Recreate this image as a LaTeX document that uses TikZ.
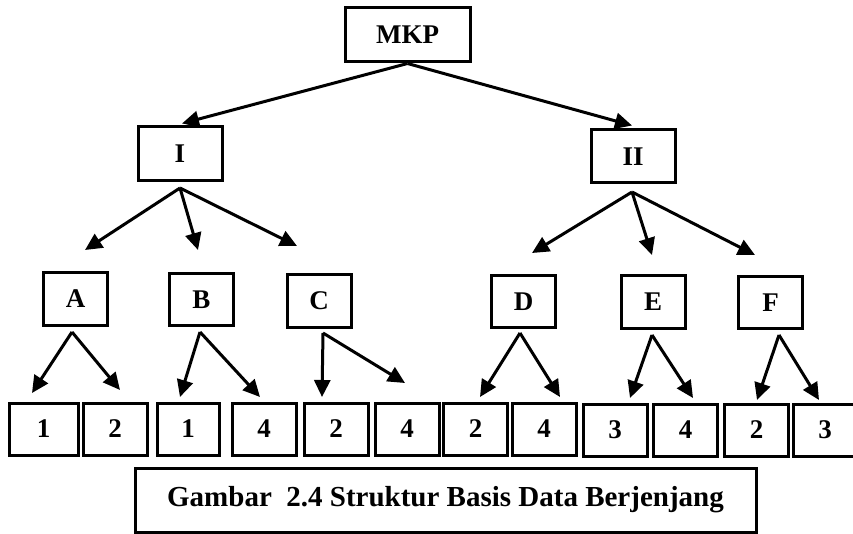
\documentclass[tikz,border=0pt]{standalone}
\usepackage{fontspec}
\setmainfont{Liberation Serif}
\usetikzlibrary{arrows.meta}
\begin{document}
\begin{tikzpicture}[x=1pt,y=-1pt,
  box/.style={draw=black,line width=3pt,inner sep=0pt,minimum height=52pt,
    font=\fontsize{27}{29}\selectfont\bfseries},
  lvl2/.style={box,minimum width=64pt},
  leaf/.style={box,minimum width=64pt},
  arr/.style={line width=3pt,-{Triangle[length=17pt,width=16pt]}}]
\useasboundingbox (0,0) rectangle (853,534);
% boxes
\node[box,minimum width=125pt,minimum height=54pt] (mkp) at (407.5,35) {MKP};
\node[box,minimum width=84pt,minimum height=54pt] (I) at (180,154) {I};
\node[box,minimum width=84pt,minimum height=53pt] (II) at (633,156.5) {II};
\node[lvl2] (A) at (75.5,299) {A};
\node[lvl2] (B) at (201.5,299.5) {B};
\node[lvl2] (C) at (319,301) {C};
\node[lvl2] (D) at (523.5,301.5) {D};
\node[lvl2] (E) at (653,302) {E};
\node[lvl2] (F) at (770.5,302.5) {F};
\node[leaf,minimum width=69pt] (l1) at (43.5,429) {1};
\node[leaf] (l2) at (115,429) {2};
\node[leaf,minimum width=62pt] (l3) at (188,429) {1};
\node[leaf] (l4) at (264,429) {4};
\node[leaf] (l5) at (336,429) {2};
\node[leaf] (l6) at (407,429) {4};
\node[leaf] (l7) at (475.5,429) {2};
\node[leaf] (l8) at (544,429) {4};
\node[leaf] (l9) at (615,430) {3};
\node[leaf] (l10) at (685.5,430) {4};
\node[leaf] (l11) at (756.5,430) {2};
\node[leaf] (l12) at (825,430) {3};
\node[draw=black,line width=3pt,minimum width=621pt,minimum height=64pt,inner sep=0pt,
  font=\fontsize{29}{31}\selectfont\bfseries] (cap) at (445.5,500)
  {Gambar\ \ 2.4 Struktur Basis Data Berjenjang};
% connector points
\coordinate (Is) at (180,188);
\coordinate (IIs) at (632,192);
\coordinate (tIA) at (85,250);
\coordinate (tIB) at (198,250);
\coordinate (tIC) at (297,246);
\coordinate (tIID) at (532,253);
\coordinate (tIIE) at (652,255);
\coordinate (tIIF) at (755,255);
\coordinate (As) at (72,332);
\coordinate (Bs) at (200,332);
\coordinate (Cs) at (323,333);
\coordinate (Ds) at (520,333);
\coordinate (Es) at (652,335);
\coordinate (Fs) at (779,335);
\coordinate (tA1) at (32,393);
\coordinate (tA2) at (120,390);
\coordinate (tB1) at (180,397);
\coordinate (tB2) at (260,397);
\coordinate (tC1) at (322,397);
\coordinate (tC2) at (405,383);
\coordinate (tD1) at (480,397);
\coordinate (tD2) at (560,397);
\coordinate (tE1) at (630,398);
\coordinate (tE2) at (693,398);
\coordinate (tF1) at (757,400);
\coordinate (tF2) at (819,400);
% arrows
\draw[arr] (mkp.south) -- ([xshift=2pt,yshift=2pt]I.north);
\draw[arr] (mkp.south) -- ([xshift=-1pt,yshift=3pt]II.north);
\draw[arr] (Is) -- (tIA);
\draw[arr] (Is) -- (tIB);
\draw[arr] (Is) -- (tIC);
\draw[arr] (IIs) -- (tIID);
\draw[arr] (IIs) -- (tIIE);
\draw[arr] (IIs) -- (tIIF);
\draw[arr] (As) -- (tA1);
\draw[arr] (As) -- (tA2);
\draw[arr] (Bs) -- (tB1);
\draw[arr] (Bs) -- (tB2);
\draw[arr] (Cs) -- (tC1);
\draw[arr] (Cs) -- (tC2);
\draw[arr] (Ds) -- (tD1);
\draw[arr] (Ds) -- (tD2);
\draw[arr] (Es) -- (tE1);
\draw[arr] (Es) -- (tE2);
\draw[arr] (Fs) -- (tF1);
\draw[arr] (Fs) -- (tF2);
\end{tikzpicture}
\end{document}
